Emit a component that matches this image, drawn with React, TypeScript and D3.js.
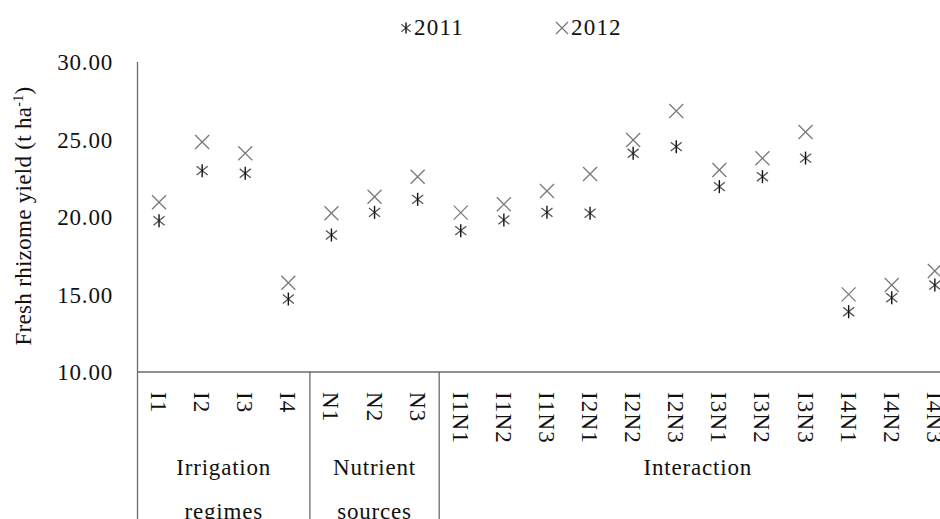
import React from "react";
import * as d3 from "d3";

const categories = ["I1","I2","I3","I4","N1","N2","N3","I1N1","I1N2","I1N3","I2N1","I2N2","I2N3","I3N1","I3N2","I3N3","I4N1","I4N2","I4N3"];
const y2011 = [19.76, 22.99, 22.82, 14.71, 18.84, 20.30, 21.14, 19.12, 19.81, 20.30, 20.24, 24.11, 24.54, 21.96, 22.60, 23.80, 13.89, 14.79, 15.61];
const y2012 = [20.95, 24.84, 24.11, 15.76, 20.24, 21.31, 22.60, 20.28, 20.82, 21.68, 22.77, 24.97, 26.84, 23.03, 23.79, 25.48, 15.01, 15.61, 16.52];
const groupLabels = [["Irrigation", "regimes"], ["Nutrient", "sources"], ["Interaction"]];
const groupSizes = [4, 3, 12];
const yTicks = [10, 15, 20, 25, 30];
const seriesNames = ["2011", "2012"];

const W = 940, H = 519;
const FONT = "'Liberation Serif', 'Times New Roman', serif";
const axisColor = "#6b6b6b";

function Star({ x, y, r }: { x: number; y: number; r: number }) {
  const d = r * 0.85;
  return (
    <g>
      <line x1={x - d} y1={y - d * 0.8} x2={x + d} y2={y + d * 0.8} stroke="#555" strokeWidth={1.3} />
      <line x1={x - d} y1={y + d * 0.8} x2={x + d} y2={y - d * 0.8} stroke="#555" strokeWidth={1.3} />
      <line x1={x} y1={y - r} x2={x} y2={y + r} stroke="#111" strokeWidth={1.4} />
    </g>
  );
}

function Cross({ x, y, r }: { x: number; y: number; r: number }) {
  return (
    <g>
      <line x1={x - r} y1={y - r} x2={x + r} y2={y + r} stroke="#7a7a7a" strokeWidth={1.3} />
      <line x1={x - r} y1={y + r} x2={x + r} y2={y - r} stroke="#7a7a7a" strokeWidth={1.3} />
    </g>
  );
}

export default function App() {
  const left = 137.5;
  const band = 43.1;
  const x = d3.scaleBand<string>().domain(categories).range([left, left + band * categories.length]).padding(0);
  const y = d3.scaleLinear().domain([10, 30]).range([372, 62]);
  const base = y(10);

  let acc = 0;
  const groups = groupSizes.map((n, i) => {
    const start = categories[acc];
    const end = categories[acc + n - 1];
    const x0 = x(start)!;
    const x1 = x(end)! + x.bandwidth();
    acc += n;
    return { x0, x1, label: groupLabels[i] };
  });

  return (
    <svg width={W} height={H} style={{ position: "absolute", left: 0, top: 0, background: "#fff" }} fontFamily={FONT}>
      <rect x={0} y={0} width={W} height={H} fill="#fff" />
      {/* legend */}
      <Star x={406} y={28} r={5.5} />
      <text x={414} y={35} fontSize={23} letterSpacing={1.2} fill="#111">{seriesNames[0]}</text>
      <Cross x={562} y={28} r={6} />
      <text x={571} y={35} fontSize={23} letterSpacing={1.2} fill="#111">{seriesNames[1]}</text>

      {/* y axis */}
      <line x1={left} y1={y(30)} x2={left} y2={H} stroke={axisColor} strokeWidth={1.3} />
      <line x1={left} y1={base} x2={W} y2={base} stroke={axisColor} strokeWidth={1.3} />
      {yTicks.map((t) => (
        <text key={t} x={113} y={y(t) + 8} textAnchor="end" fontSize={23} letterSpacing={0.8} fill="#111">
          {d3.format(".2f")(t)}
        </text>
      ))}
      <text transform={`translate(31, 216) rotate(-90)`} textAnchor="middle" fontSize={23} letterSpacing={0.3} fill="#111">
        Fresh rhizome yield (t ha<tspan dy={-8} fontSize={14}>-1</tspan><tspan dy={8}>)</tspan>
      </text>

      {/* group separators */}
      {groups.slice(1).map((g, i) => (
        <line key={i} x1={g.x0} y1={base} x2={g.x0} y2={H} stroke={axisColor} strokeWidth={1.3} />
      ))}

      {/* category labels */}
      {categories.map((c) => (
        <text key={c} transform={`translate(${x(c)! + x.bandwidth() / 2 - 8}, 392) rotate(90)`} fontSize={23} letterSpacing={1.2} fill="#111">
          {c}
        </text>
      ))}

      {/* group labels */}
      {groups.map((g, i) => (
        <text key={i} x={(g.x0 + g.x1) / 2} y={475} textAnchor="middle" fontSize={23} letterSpacing={0.8} fill="#111">
          {g.label.map((l, j) => (
            <tspan key={j} x={(g.x0 + g.x1) / 2} dy={j === 0 ? 0 : 44}>{l}</tspan>
          ))}
        </text>
      ))}

      {/* markers */}
      {categories.map((c, i) => (
        <g key={c}>
          <Cross x={x(c)! + x.bandwidth() / 2} y={y(y2012[i])} r={7} />
          <Star x={x(c)! + x.bandwidth() / 2} y={y(y2011[i])} r={6.5} />
        </g>
      ))}
    </svg>
  );
}
